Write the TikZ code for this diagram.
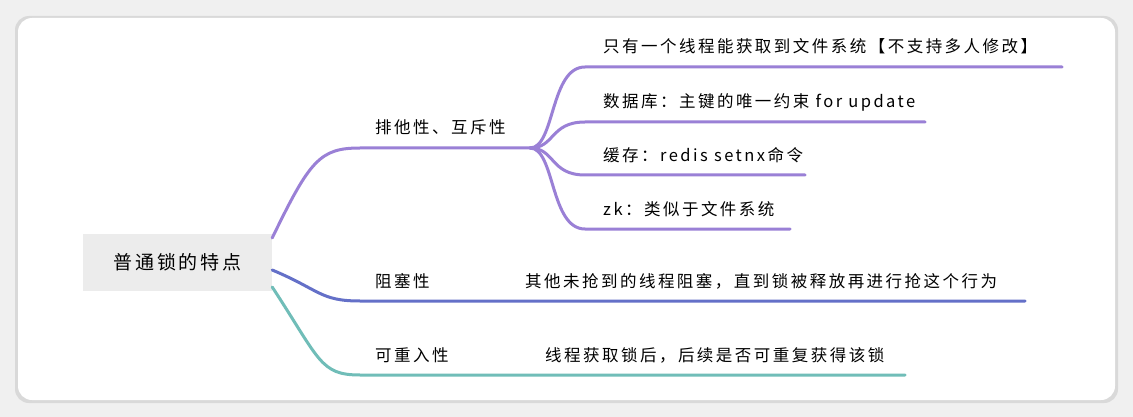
\documentclass[tikz,border=0pt]{standalone}
\usepackage{fontspec}
\setmainfont{Noto Sans CJK SC}[LetterSpace=15]
\begin{document}
\begin{tikzpicture}[x=1pt,y=-1pt,
  br/.style={line width=3pt,line cap=round},
  lbl/.style={anchor=base west,inner sep=0,font=\fontsize{16.5}{16.5}\selectfont}]
\useasboundingbox (0,0) rectangle (1133,417);
\fill[gray!12] (0,0) rectangle (1133,417);
\fill[gray!30,rounded corners=14pt] (15,16) rectangle (1118,403);
\fill[white,rounded corners=14pt] (18,18) rectangle (1115,400);
\definecolor{pur}{HTML}{9A80D6}
\definecolor{blu}{HTML}{6470C8}
\definecolor{tea}{HTML}{70BDB8}
\node[fill=gray!15,minimum width=189pt,minimum height=57pt,font=\fontsize{19}{19}\selectfont] (root) at (177.5,262.5) {普通锁的特点};
\coordinate (j) at (530,148);
\draw[br,pur] (root.east|-0,238) .. controls (310,160) and (320,148) .. (360,148) -- (j);
\node[lbl] (a) at (375,134) {排他性、互斥性};
\foreach \y/\e/\t in {67/1062/只有一个线程能获取到文件系统【不支持多人修改】,122/925/数据库：主键的唯一约束 for update,175/805/缓存：redis setnx命令,229/790/zk：类似于文件系统}{
  \draw[br,pur] (j) .. controls (555,148) and (550,\y) .. (585,\y) -- (\e,\y);
  \node[lbl] at (603,\y-14) {\t};
}
\draw[br,blu] (root.east|-0,270) .. controls (320,290) and (320,301) .. (360,301) -- (1025,301);
\node[lbl] (b) at (375,287) {阻塞性};
\node[lbl] at (525,287) {其他未抢到的线程阻塞，直到锁被释放再进行抢这个行为};
\draw[br,tea] (root.east|-0,287) .. controls (320,360) and (320,375) .. (360,375) -- (905,375);
\node[lbl] (c) at (375,361) {可重入性};
\node[lbl] at (545,361) {线程获取锁后，后续是否可重复获得该锁};
\end{tikzpicture}
\end{document}
